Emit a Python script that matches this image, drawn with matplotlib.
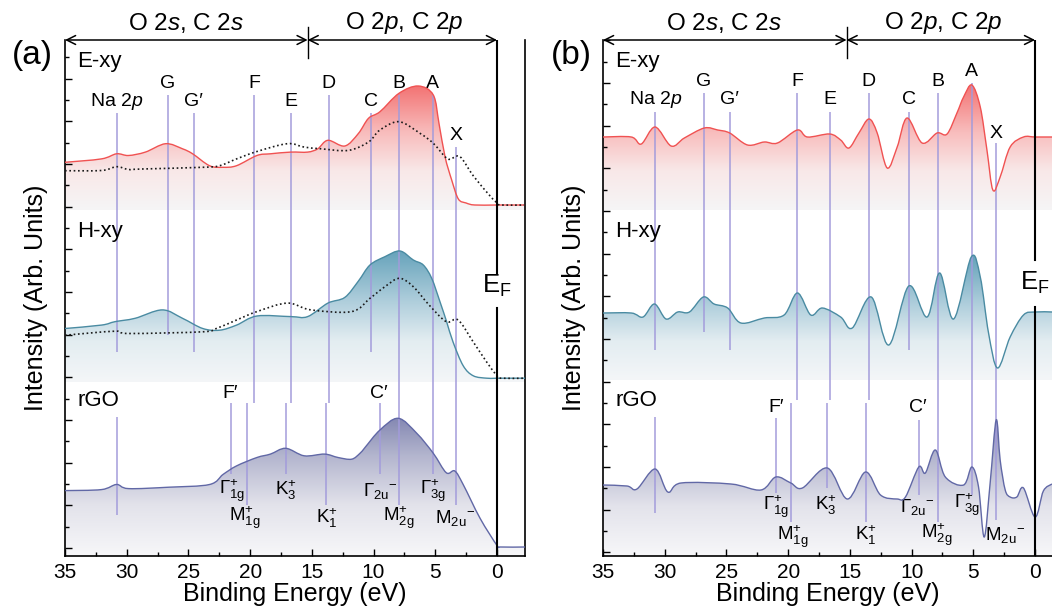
import numpy as np
import matplotlib
matplotlib.use("Agg")
import matplotlib.pyplot as plt
from matplotlib.path import Path
from matplotlib.patches import PathPatch
from matplotlib.colors import LinearSegmentedColormap
from matplotlib.ticker import MultipleLocator, FixedLocator

plt.rcParams['font.family'] = ['Liberation Sans', 'DejaVu Sans']
plt.rcParams['mathtext.fontset'] = 'custom'
plt.rcParams['mathtext.rm'] = 'Liberation Sans'
plt.rcParams['mathtext.it'] = 'Liberation Sans:italic'
plt.rcParams['mathtext.bf'] = 'Liberation Sans:bold'

# --- spectra, panel (a): binding energy (eV) vs intensity (arb. units, stacked) ---
a_exy_E = [35.0, 32.05, 30.82, 29.86, 28.49, 26.85, 25.48, 24.66, 23.29, 22.19, 21.10, 19.45,
           18.36, 16.71, 15.34, 14.52, 13.70, 12.33, 11.23, 10.41, 9.48, 7.94, 6.38, 5.16,
           4.70, 4.21, 3.67, 3.13, 2.50, 1.80, 0.0, -2.27]
a_exy_I = [385.7, 389.1, 394.2, 392.5, 395.9, 404.3, 399.2, 394.2, 382.3, 380.7, 382.3, 392.5,
           394.2, 395.9, 395.9, 399.2, 407.7, 402.0, 414.5, 429.7, 436.3, 454.7, 462.0, 453.0,
           424.7, 391.3, 368.0, 349.0, 345.0, 343.0, 343.0, 343.0]
a_exy_ref_E = [35.0, 32.05, 30.82, 29.86, 28.77, 23.84, 22.47, 21.10, 19.45, 16.99, 15.62, 14.25,
               12.05, 10.41, 9.48, 7.94, 6.24, 5.16, 4.21, 3.80, 3.00, 1.92, 0.55, 0.0, -0.30, -2.27]
a_exy_ref_I = [377.3, 377.5, 381.3, 378.5, 379.0, 380.7, 382.3, 389.1, 396.5, 404.3, 400.9, 399.2,
               397.6, 406.0, 418.0, 426.3, 414.7, 404.7, 391.3, 388.7, 391.3, 372.2, 351.9, 345.2,
               343.0, 343.0]
a_hxy_E = [35.0, 32.05, 30.96, 29.32, 27.12, 25.48, 23.84, 22.47, 21.10, 19.45, 16.71, 15.34, 13.70,
           12.33, 11.23, 10.29, 9.08, 7.86, 6.78, 5.97, 5.29, 4.62, 4.08, 3.56, 2.74, 1.92, 0.82,
           0.0, -2.27]
a_hxy_I = [219.5, 222.9, 226.3, 229.7, 238.1, 229.7, 219.5, 217.8, 222.9, 232.0, 231.4, 231.4, 244.9,
           250.6, 266.9, 283.0, 291.3, 297.0, 288.0, 283.0, 269.7, 246.3, 226.3, 206.0, 182.3, 172.2,
           169.8, 169.8, 169.8]
a_hxy_ref_E = [35.0, 30.96, 29.86, 23.84, 22.74, 21.10, 19.45, 16.99, 15.07, 11.78, 10.29, 9.08,
               7.90, 6.78, 5.50, 4.11, 3.15, 1.92, 0.82, 0.0, -0.30, -2.27]
a_hxy_ref_I = [212.8, 216.8, 214.5, 216.2, 219.5, 228.0, 236.4, 244.9, 238.1, 236.4, 249.7, 261.3,
               269.7, 261.3, 243.0, 226.3, 228.0, 206.0, 185.7, 172.2, 169.8, 169.8]
a_rgo_E = [35.0, 32.05, 30.82, 29.86, 26.58, 23.29, 22.19, 21.10, 19.45, 18.36, 17.12, 15.62, 13.97,
           12.88, 11.78, 11.10, 10.68, 9.48, 8.00, 6.50, 5.16, 4.11, 3.42, 2.74, 1.37, 0.0, -0.27, -2.27]
a_rgo_I = [57.4, 58.4, 63.5, 59.4, 60.8, 63.5, 73.6, 82.1, 90.5, 93.9, 99.7, 92.2, 93.9,
           90.5, 88.8, 94.7, 100.7, 118.0, 129.7, 114.7, 94.7, 75.3, 77.0, 63.5, 29.7, 2.6, 1.0, 1.0]

# --- spectra, panel (b) ---
b_exy_E = [35.0, 32.71, 31.90, 30.78, 29.48, 28.41, 26.79, 25.71, 24.74, 23.29, 21.94, 20.87, 19.25,
           18.44, 16.64, 15.75, 15.08, 14.27, 13.46, 12.79, 11.98, 11.17, 10.37, 9.15, 7.94, 7.13,
           6.33, 5.79, 5.12, 4.44, 3.90, 3.42, 2.83, 2.02, 0.94, 0.0, -1.37]
b_exy_I = [411, 411, 404, 421, 402, 410, 420, 418, 415, 403, 406, 405, 418,
           411, 414, 408, 400, 415, 429, 415, 380, 401, 430, 405, 415, 414,
           435, 451, 463, 441, 398, 358, 371, 401, 411, 411, 411]
b_hxy_E = [35.0, 32.71, 31.76, 30.83, 29.89, 28.95, 28.00, 26.87, 26.00, 24.90, 23.83, 21.94, 20.33,
           19.25, 18.17, 17.23, 15.75, 14.81, 13.27, 11.85, 10.23, 8.75, 7.73, 6.60, 5.17, 4.44,
           3.77, 3.04, 2.02, 0.94, 0.0, -1.37]
b_hxy_I = [235, 235, 231, 244, 229, 236, 236, 251, 244, 240, 225, 230, 233,
           255, 233, 240, 231, 220, 251, 203, 262, 231, 275, 229, 291, 271,
           215, 180, 211, 233, 236, 236]
b_rgo_E = [35.0, 33.06, 32.25, 30.78, 29.75, 28.68, 24.64, 22.21, 21.00, 19.79, 18.85, 16.83, 15.21,
           13.73, 12.52, 11.17, 10.50, 9.42, 8.89, 8.08, 7.27, 5.79, 5.12, 4.58, 4.12, 3.64, 3.15,
           2.83, 2.42, 2.02, 1.48, 0.94, 0.0, -0.67, -1.37]
b_rgo_I = [63, 62, 59, 79, 56, 65, 64, 58, 71, 65, 60, 80, 49,
           76, 53, 49, 51, 81, 75, 98, 71, 63, 81, 61, 11, 65, 128,
           88, 58, 51, 51, 60, 31, 57, 64]

# --- peak assignments ---
top_names = ['Na 2$\\mathit{p}$', 'G', 'G\u2032', 'F', 'E', 'D', 'C', 'B', 'A', 'X']
a_top_E = [30.82, 26.66, 24.58, 19.67, 16.71, 13.62, 10.22, 7.95, 5.21, 3.29]
b_top_E = [30.75, 26.84, 24.74, 19.25, 16.64, 13.46, 10.23, 7.89, 5.12, 3.20]
a_low_E = [30.82, 21.51, 20.27, 17.12, 13.84, 9.45]
b_low_E = [30.75, 21.00, 19.74, 16.83, 13.68, 9.37]
sym_names = [r'$\Gamma^{+}_{\mathrm{1g}}$', r'$\mathrm{M}^{+}_{\mathrm{1g}}$', r'$\mathrm{K}^{+}_{3}$',
             r'$\mathrm{K}^{+}_{1}$', r'$\Gamma_{\mathrm{2u}}{}^{-}$', r'$\mathrm{M}^{+}_{\mathrm{2g}}$',
             r'$\Gamma^{+}_{\mathrm{3g}}$', r'$\mathrm{M}_{\mathrm{2u}}{}^{-}$']
a_sym_E = [21.50, 20.40, 17.12, 13.78, 9.48, 7.95, 5.18, 3.37]
b_sym_E = [21.00, 19.66, 16.94, 13.73, 9.50, 8.00, 5.52, 2.45]

# layout of the markers (vertical extents / label heights, in axis units)
a_top_hi = [435, 453, 435, 453, 435, 453, 435, 453, 453, 401]
a_top_lo = [196, 213, 196, 145, 145, 145, 196, 43, 74, 43]
a_top_y = [447, 465, 447, 465, 447, 465, 447, 465, 465, 413]
a_low_hi = [131, 145, 145, 145, 145, 145]
a_low_lo = [33, 74, 43, 74, 43, 74]
a_sym_y = [57, 30, 58, 30, 57, 30, 57, 30]
b_top_hi = [436, 455, 436, 455, 436, 455, 436, 455, 465, 405]
b_top_lo = [198, 216, 198, 148, 148, 148, 198, 26, 53, 28]
b_top_y = [448, 466, 448, 466, 448, 466, 448, 466, 476, 415]
b_low_hi = [131, 130, 145, 145, 145, 128]
b_low_lo = [35, 55, 26, 60, 26, 53]
b_sym_y = [41, 11, 43, 13, 41, 13, 43, 13]

YLO, YHI = -8, 508
VLINE = '#a29bdb'

red_cmap = LinearSegmentedColormap.from_list(
    'r', [(0, '#f5f5f6'), (0.3, '#f9e8e8'), (0.6, '#f8bcbc'), (1, '#f26a6a')])
teal_cmap = LinearSegmentedColormap.from_list(
    't', [(0, '#f4f6f8'), (0.3, '#e3edf1'), (0.6, '#adcddb'), (1, '#5e9eb7')])
rgo_cmap = LinearSegmentedColormap.from_list(
    'g', [(0, '#f7f7f9'), (0.35, '#e3e3eb'), (0.7, '#b3b5ce'), (1, '#7d81ae')])


def bezier(x, y):
    # Catmull-Rom through the read points, drawn as cubic Bezier segments
    p = np.column_stack([x, y]).astype(float)
    n = len(p)
    verts = [tuple(p[0])]
    codes = [Path.MOVETO]
    for i in range(n - 1):
        p0, p1, p2, p3 = p[max(i - 1, 0)], p[i], p[i + 1], p[min(i + 2, n - 1)]
        c1 = p1 + (p2 - p0) / 6.0
        c2 = p2 - (p3 - p1) / 6.0
        lo, hi = min(p1[0], p2[0]), max(p1[0], p2[0])
        c1[0] = np.clip(c1[0], lo, hi)
        c2[0] = np.clip(c2[0], lo, hi)
        verts += [tuple(c1), tuple(c2), tuple(p2)]
        codes += [Path.CURVE4] * 3
    return verts, codes


def spectrum(ax, E, I, base, color, cmap):
    verts, codes = bezier(E, I)
    fv = verts + [(E[-1], base), (E[0], base), verts[0]]
    fc = codes + [Path.LINETO, Path.LINETO, Path.CLOSEPOLY]
    clip = PathPatch(Path(fv, fc), transform=ax.transData, facecolor='none', edgecolor='none')
    ax.add_patch(clip)
    grad = np.linspace(0, 1, 256).reshape(-1, 1)
    im = ax.imshow(grad, extent=(max(E), min(E), base, max(I) + 6), origin='lower',
                   aspect='auto', cmap=cmap, zorder=1, interpolation='bilinear')
    im.set_clip_path(clip)
    ax.add_patch(PathPatch(Path(verts, codes), facecolor='none', edgecolor=color,
                           lw=1.0, zorder=4))


def reference(ax, E, I):
    verts, codes = bezier(E, I)
    ax.add_patch(PathPatch(Path(verts, codes), facecolor='none', edgecolor='#1a1a1a',
                           lw=1.2, linestyle=(0, (1, 1.6)), zorder=5))


def panel(ax, tag, xr, top_E, top_hi, top_lo, top_y, low_E, low_hi, low_lo,
          sym_E, sym_y, prime_E, prime_y, div, hdr, ef_gap, ef_y, ytick0):
    ax.set_xlim(35, xr)
    ax.set_ylim(YLO, YHI)
    ax.vlines(top_E, top_lo, top_hi, color=VLINE, lw=1.2, alpha=0.9, zorder=3)
    ax.vlines(low_E, low_lo, low_hi, color=VLINE, lw=1.2, alpha=0.9, zorder=3)
    for e, y, s in zip(top_E, top_y, top_names):
        ax.text(e, y, s, ha='center', va='center', fontsize=14)
    for e, y, s in zip(sym_E, sym_y, sym_names):
        ax.text(e, y, s, ha='center', va='center', fontsize=13.5)
    ax.text(prime_E[0], prime_y, 'F\u2032', ha='center', va='center', fontsize=14)
    ax.text(prime_E[1], prime_y, 'C\u2032', ha='center', va='center', fontsize=14)

    # Fermi level
    ax.plot([0, 0], [YLO, ef_gap[0]], color='k', lw=1.5, zorder=6)
    ax.plot([0, 0], [ef_gap[1], YHI], color='k', lw=1.5, zorder=6)
    ax.text(0, ef_y, 'E$_\\mathrm{F}$', ha='center', va='center', fontsize=18.5, zorder=7)

    # orbital character arrows on top
    for x0, x1 in [(35, div), (div, 0)]:
        ax.annotate('', xy=(x0, YHI), xytext=(x1, YHI), xycoords='data',
                    arrowprops=dict(arrowstyle='<->', color='k', lw=1.1,
                                    shrinkA=0, shrinkB=0, mutation_scale=16),
                    annotation_clip=False)
    ax.plot([div, div], [YHI - 18, YHI + 13], color='k', lw=1.0, clip_on=False)
    ax.text(hdr[0], YHI + 17, 'O 2$\\mathit{s}$, C 2$\\mathit{s}$', ha='center',
            va='center', fontsize=17.5)
    ax.text(hdr[1], YHI + 17, 'O 2$\\mathit{p}$, C 2$\\mathit{p}$', ha='center',
            va='center', fontsize=17.5)

    ax.text(34.0, 487, 'E-xy', ha='left', va='center', fontsize=16)
    ax.text(34.0, 317, 'H-xy', ha='left', va='center', fontsize=16)
    ax.text(34.0, 148, 'rGO', ha='left', va='center', fontsize=16)
    ax.text(-0.07, 0.97, tag, transform=ax.transAxes, ha='center', va='center', fontsize=24)

    ax.spines['top'].set_visible(False)
    ax.xaxis.set_major_locator(MultipleLocator(5))
    ax.xaxis.set_minor_locator(MultipleLocator(2.5))
    ax.yaxis.set_major_locator(FixedLocator(np.arange(ytick0, YHI, 42.66)))
    ax.yaxis.set_minor_locator(FixedLocator(np.arange(ytick0 + 21.33, YHI, 42.66)))
    ax.tick_params(which='both', direction='in', top=False, right=False, width=1.0)
    ax.tick_params(which='major', length=5, labelsize=15, pad=5)
    ax.tick_params(which='minor', length=3)
    ax.set_yticklabels([])
    ax.set_xticks([35, 30, 25, 20, 15, 10, 5, 0])
    ax.set_xticklabels(['35', '30', '25', '20', '15', '10', '5', '0'])
    ax.set_xlabel('Binding Energy (eV)', fontsize=18, labelpad=0)
    ax.set_ylabel('Intensity (Arb. Units)', fontsize=18, labelpad=7)
    for s in ax.spines.values():
        s.set_linewidth(1.2)


fig = plt.figure(figsize=(10.52, 6.08), dpi=100)
ax_a = fig.add_axes([65 / 1052, 52 / 608, 460 / 1052, 516 / 608])
ax_b = fig.add_axes([603 / 1052, 52 / 608, 449 / 1052, 516 / 608])

spectrum(ax_a, a_exy_E, a_exy_I, 338, '#f05252', red_cmap)
spectrum(ax_a, a_hxy_E, a_hxy_I, 166, '#4a8ba2', teal_cmap)
spectrum(ax_a, a_rgo_E, a_rgo_I, YLO, '#6168a6', rgo_cmap)
reference(ax_a, a_exy_ref_E, a_exy_ref_I)
reference(ax_a, a_hxy_ref_E, a_hxy_ref_I)

spectrum(ax_b, b_exy_E, b_exy_I, 338, '#f05252', red_cmap)
spectrum(ax_b, b_hxy_E, b_hxy_I, 168, '#4a8ba2', teal_cmap)
spectrum(ax_b, b_rgo_E, b_rgo_I, YLO, '#6168a6', rgo_cmap)

panel(ax_a, '(a)', -2.27, a_top_E, a_top_hi, a_top_lo, a_top_y, a_low_E, a_low_hi, a_low_lo,
      a_sym_E, a_sym_y, (21.64, 9.59), 155, 15.34, (25.2, 7.53), (240, 275), 262, 0.0)
panel(ax_b, '(b)', -1.37, b_top_E, b_top_hi, b_top_lo, b_top_y, b_low_E, b_low_hi, b_low_lo,
      b_sym_E, b_sym_y, (21.0, 9.5), 141, 15.27, (25.17, 7.4), (241, 288), 265, -4.3)
ax_b.spines['right'].set_visible(False)

fig.savefig('out.png', dpi=100)
